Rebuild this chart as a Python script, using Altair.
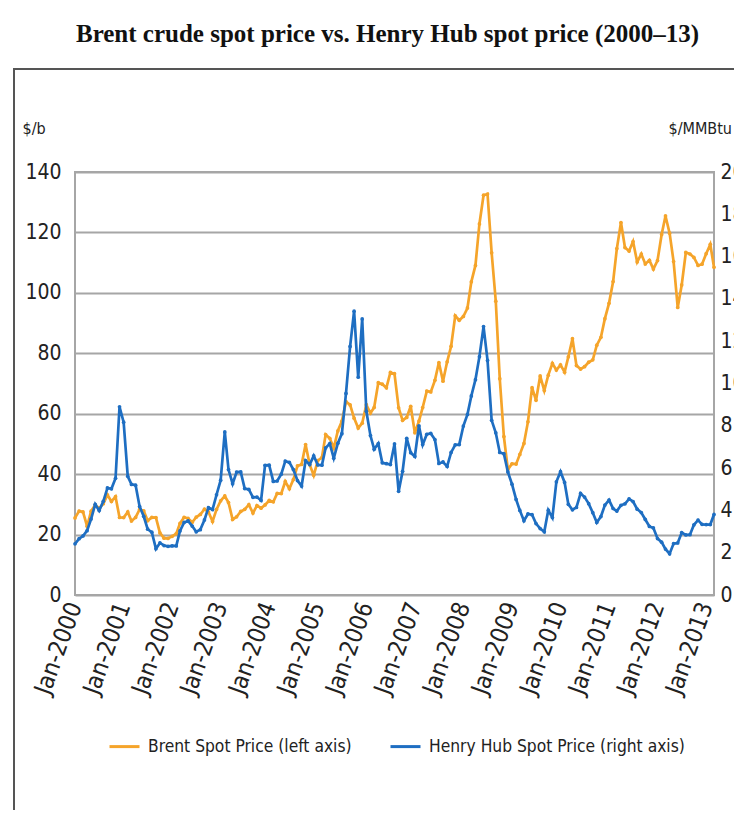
import altair as alt
import pandas as pd

# Monthly averages, Jan-2000 .. Mar-2013
brent = [
    25.51, 27.78, 27.49, 22.76, 27.74, 29.80, 28.68, 30.20, 33.14, 30.96, 32.55, 25.66,
    25.62, 27.50, 24.50, 25.66, 28.31, 27.85, 24.61, 25.68, 25.62, 20.54, 18.80, 18.71,
    19.42, 20.28, 23.70, 25.73, 25.35, 24.08, 25.74, 26.65, 28.40, 27.54, 24.34, 28.33,
    31.18, 32.77, 30.61, 25.00, 25.86, 27.65, 28.35, 29.89, 27.11, 29.61, 28.75, 29.81,
    31.28, 30.86, 33.63, 33.59, 37.57, 35.18, 38.22, 42.74, 43.20, 49.78, 43.11, 39.60,
    44.51, 45.48, 53.10, 51.88, 48.65, 54.35, 57.52, 63.98, 62.91, 58.54, 55.24, 56.86,
    62.99, 60.21, 62.06, 70.26, 69.78, 68.56, 73.67, 73.23, 61.96, 57.81, 58.76, 62.47,
    53.68, 57.56, 62.05, 67.49, 67.21, 71.05, 76.93, 70.76, 77.17, 82.34, 92.41, 90.93,
    92.18, 94.99, 103.64, 109.07, 122.80, 132.32, 132.72, 113.24, 97.23, 71.58, 52.45, 41.50,
    43.44, 43.32, 46.54, 50.18, 57.30, 68.61, 64.44, 72.51, 67.65, 72.77, 76.66, 74.46,
    76.17, 73.75, 78.83, 84.82, 75.95, 74.76, 75.58, 77.04, 77.84, 82.67, 85.28, 91.45,
    96.52, 103.72, 114.64, 123.26, 114.99, 113.83, 116.97, 110.22, 112.83, 109.55, 110.77, 107.87,
    110.69, 119.33, 125.45, 119.75, 110.34, 95.16, 102.62, 113.36, 112.86, 111.71, 109.06, 109.49,
    112.96, 116.05, 108.47,
]
henry = [
    2.42, 2.66, 2.79, 3.04, 3.59, 4.29, 3.99, 4.43, 5.06, 5.02, 5.52, 8.90,
    8.17, 5.61, 5.23, 5.19, 4.19, 3.72, 3.11, 2.97, 2.19, 2.46, 2.34, 2.30,
    2.32, 2.32, 3.03, 3.43, 3.50, 3.26, 2.99, 3.09, 3.55, 4.13, 4.04, 4.74,
    5.43, 7.71, 5.93, 5.26, 5.81, 5.82, 5.03, 4.99, 4.62, 4.63, 4.47, 6.13,
    6.14, 5.37, 5.39, 5.71, 6.33, 6.27, 5.93, 5.41, 5.15, 6.35, 6.17, 6.58,
    6.15, 6.14, 6.96, 7.16, 6.47, 7.18, 7.63, 9.53, 11.75, 13.42, 10.30, 13.05,
    8.69, 7.54, 6.89, 7.16, 6.25, 6.21, 6.17, 7.14, 4.90, 5.85, 7.41, 6.73,
    6.55, 8.00, 7.11, 7.60, 7.64, 7.35, 6.22, 6.29, 6.08, 6.74, 7.10, 7.11,
    7.99, 8.54, 9.41, 10.18, 11.27, 12.69, 11.09, 8.26, 7.67, 6.74, 6.68, 5.82,
    5.24, 4.52, 4.00, 3.51, 3.83, 3.80, 3.38, 3.14, 2.99, 4.01, 3.66, 5.35,
    5.83, 5.32, 4.29, 4.03, 4.14, 4.80, 4.63, 4.32, 3.89, 3.43, 3.71, 4.25,
    4.49, 4.09, 3.97, 4.24, 4.31, 4.54, 4.42, 4.06, 3.90, 3.57, 3.24, 3.17,
    2.67, 2.50, 2.17, 1.95, 2.43, 2.46, 2.95, 2.84, 2.85, 3.32, 3.54, 3.34,
    3.33, 3.33, 3.81,
]
series_names = ["Brent Spot Price (left axis)", "Henry Hub Spot Price (right axis)"]
series_colors = ["#F5A42A", "#1E6EC2"]
tick_years = list(range(2000, 2014))

dates = pd.date_range("2000-01-01", periods=len(brent), freq="MS").strftime("%Y-%m-%d")
df_b = pd.DataFrame({"date": dates, "value": brent, "series": series_names[0]})
df_h = pd.DataFrame({"date": dates, "value": henry, "series": series_names[1]})

FONT = "DejaVu Sans Condensed, Liberation Sans Narrow, sans-serif"
GRID = "#a6a6a6"

x_enc = alt.X(
    "date:T",
    scale=alt.Scale(domain=[alt.DateTime(year=2000, month=1, date=1),
                            alt.DateTime(year=2013, month=3, date=1)]),
    axis=alt.Axis(
        title=None, grid=False, domain=False, ticks=False,
        values=[alt.DateTime(year=y, month=1, date=1) for y in tick_years],
        format="%b-%Y", labelAngle=-70, labelFont=FONT, labelFontSize=24,
        labelColor="#222", labelPadding=8, labelOverlap=False, labelFlush=False,
    ),
)
color_enc = alt.Color(
    "series:N",
    scale=alt.Scale(domain=series_names, range=series_colors),
    legend=alt.Legend(
        orient="none", legendX=33, legendY=558, direction="horizontal", title=None,
        symbolType="stroke", symbolSize=900, symbolStrokeWidth=3,
        labelFont=FONT, labelFontSize=17.3, labelColor="#222", labelLimit=400,
        columnPadding=32, labelOffset=7,
    ),
)

brent_line = alt.Chart(df_b).mark_line(
    strokeWidth=2.7, point=alt.OverlayMarkDef(filled=True, size=14)
).encode(
    x=x_enc,
    y=alt.Y("value:Q", scale=alt.Scale(domain=[0, 140], nice=False),
            axis=alt.Axis(values=list(range(0, 141, 20)), title="$/b", titleAngle=0,
                          titleX=-53, titleY=-44, titleAlign="left", titleBaseline="middle",
                          titleFont=FONT, titleFontSize=16, titleFontWeight="normal",
                          titleColor="#222", labelFont=FONT, labelFontSize=21,
                          labelColor="#222", labelPadding=14, ticks=False, domain=False,
                          grid=True, gridColor=GRID, gridWidth=2)),
    color=color_enc,
)

henry_line = alt.Chart(df_h).mark_line(
    strokeWidth=2.7, point=alt.OverlayMarkDef(filled=True, size=14)
).encode(
    x=x_enc,
    y=alt.Y("value:Q", scale=alt.Scale(domain=[0, 20], nice=False),
            axis=alt.Axis(orient="right", values=list(range(0, 21, 2)), title="$/MMBtu",
                          titleAngle=0, titleX=-46, titleY=-44, titleAlign="left",
                          titleBaseline="middle", titleFont=FONT, titleFontSize=16,
                          titleFontWeight="normal", titleColor="#222",
                          labelFont=FONT, labelFontSize=21, labelColor="#222",
                          labelPadding=6, ticks=False, domain=False, grid=False)),
    color=color_enc,
)

box = alt.Chart(pd.DataFrame({"k": [0]})).mark_rect(
    filled=False, stroke="#555555", strokeWidth=2
).encode(
    x=alt.value(-61), x2=alt.value(800), y=alt.value(-103), y2=alt.value(700)
)

chart = alt.layer(box, brent_line, henry_line).resolve_scale(
    y="independent"
).properties(
    width=639, height=423,
    autosize=alt.AutoSizeParams(type="none"),
    padding={"left": 67, "top": 164, "right": 20, "bottom": 215},
    title=alt.TitleParams(
        "Brent crude spot price vs. Henry Hub spot price (2000\u201313)",
        font="Liberation Serif, Times New Roman, serif", fontSize=25, fontWeight="bold",
        color="#111", anchor="middle", offset=0, dx=-7, dy=4, baseline="bottom",
    ),
    background="white",
).configure_view(stroke=GRID, strokeWidth=2)

chart.save("out.html", embed_options={"renderer": "svg", "actions": False})
